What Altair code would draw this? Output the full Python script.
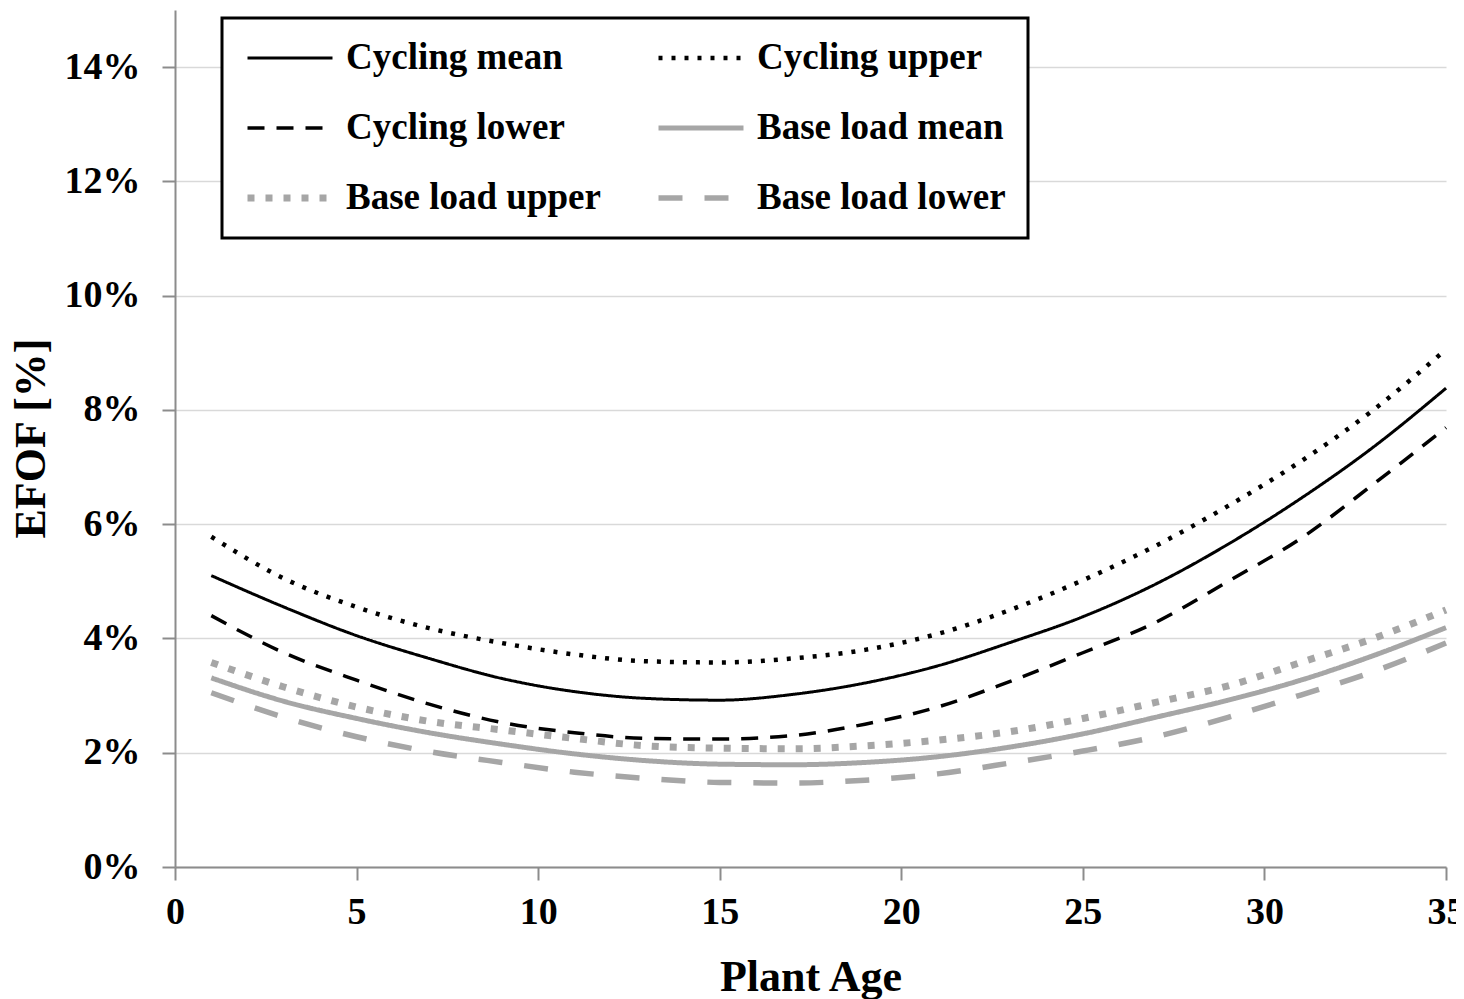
import altair as alt
import pandas as pd

ages = [1, 3, 5, 7, 9, 11, 13, 15, 17, 19, 21, 23, 25, 27, 29, 31, 33, 35]

cycling_mean = [5.10, 4.55, 4.05, 3.65, 3.30, 3.07, 2.95, 2.92, 3.02, 3.22, 3.52, 3.93, 4.38, 4.95, 5.65, 6.45, 7.35, 8.38]
cycling_upper = [5.78, 5.05, 4.55, 4.18, 3.92, 3.72, 3.60, 3.58, 3.65, 3.80, 4.08, 4.50, 5.02, 5.62, 6.32, 7.10, 8.00, 9.06]
cycling_lower = [4.40, 3.75, 3.27, 2.85, 2.53, 2.35, 2.25, 2.24, 2.30, 2.50, 2.80, 3.25, 3.75, 4.28, 5.00, 5.75, 6.70, 7.69]
base_mean = [3.31, 2.90, 2.60, 2.35, 2.15, 1.98, 1.86, 1.80, 1.79, 1.83, 1.93, 2.10, 2.33, 2.62, 2.92, 3.27, 3.70, 4.19]
base_upper = [3.58, 3.15, 2.80, 2.55, 2.40, 2.25, 2.12, 2.08, 2.07, 2.12, 2.22, 2.37, 2.60, 2.88, 3.17, 3.58, 4.00, 4.50]
base_lower = [3.05, 2.62, 2.28, 2.02, 1.83, 1.66, 1.55, 1.48, 1.47, 1.52, 1.63, 1.82, 2.03, 2.28, 2.62, 3.01, 3.42, 3.92]

series_names = ["Cycling mean", "Cycling upper", "Cycling lower",
                "Base load mean", "Base load upper", "Base load lower"]
series_values = [cycling_mean, cycling_upper, cycling_lower, base_mean, base_upper, base_lower]

# legend fills column by column: this order reproduces the row-wise layout of the reference
legend_order = ["Cycling mean", "Cycling lower", "Base load upper",
                "Cycling upper", "Base load mean", "Base load lower"]

style_color = {"Cycling mean": "#000000", "Cycling upper": "#000000", "Cycling lower": "#000000",
               "Base load mean": "#a6a6a6", "Base load upper": "#a6a6a6", "Base load lower": "#a6a6a6"}
style_dash = {"Cycling mean": [1, 0], "Cycling upper": [4, 9], "Cycling lower": [17, 12],
              "Base load mean": [1, 0], "Base load upper": [7, 11], "Base load lower": [24, 22]}
style_width = {"Cycling mean": 3, "Cycling upper": 4.5, "Cycling lower": 3.5,
               "Base load mean": 5, "Base load upper": 7, "Base load lower": 5.5}

colors = [style_color[s] for s in legend_order]
dashes = [style_dash[s] for s in legend_order]
widths = [style_width[s] for s in legend_order]

rows = []
for name, vals in zip(series_names, series_values):
    for a, v in zip(ages, vals):
        rows.append({"age": a, "efof": v, "series": name})
df = pd.DataFrame(rows)

FONT = "Liberation Serif"

legend = alt.Legend(
    title=None,
    orient="none",
    legendX=47,
    legendY=8,
    columns=2,
    columnPadding=54,
    rowPadding=33,
    clipHeight=36,
    symbolType="stroke",
    symbolSize=7225,
    labelOffset=10,
    labelFont=FONT,
    labelFontSize=37,
    labelFontWeight="bold",
    labelColor="black",
    labelLimit=400,
    strokeColor="black",
    fillColor="white",
    padding=22,
    symbolLimit=0,
)

chart = alt.Chart(df).mark_line(interpolate="monotone").encode(
    x=alt.X("age:Q",
            scale=alt.Scale(domain=[0, 35], nice=False),
            axis=alt.Axis(values=[0, 5, 10, 15, 20, 25, 30, 35], title="Plant Age",
                          grid=False, labelPadding=13, labelFlush=False,
                          titleY=123, titleBaseline="alphabetic")),
    y=alt.Y("efof:Q",
            scale=alt.Scale(domain=[0, 15], nice=False),
            axis=alt.Axis(values=[0, 2, 4, 6, 8, 10, 12, 14], title="EFOF [%]",
                          labelExpr="datum.value + '%'", grid=True, labelPadding=22,
                          titleX=-131, titleY=428, titleAngle=270, titleAlign="center",
                          titleBaseline="alphabetic")),
    color=alt.Color("series:N", scale=alt.Scale(domain=legend_order, range=colors), legend=legend),
    strokeDash=alt.StrokeDash("series:N", scale=alt.Scale(domain=legend_order, range=dashes), legend=legend),
    strokeWidth=alt.StrokeWidth("series:N", scale=alt.Scale(type="ordinal", domain=legend_order, range=widths), legend=legend),
).properties(
    width=1271,
    height=857,
    autosize=alt.AutoSizeParams(type="none"),
    padding={"left": 167, "top": 2, "right": 10, "bottom": 132},
).configure_view(
    stroke=None
).configure_axis(
    labelFont=FONT,
    labelFontSize=38,
    labelFontWeight="bold",
    labelColor="black",
    titleFont=FONT,
    titleFontSize=44,
    titleFontWeight="bold",
    titleColor="black",
    domainColor="#8c8c8c",
    domainWidth=2,
    tickColor="#8c8c8c",
    tickWidth=2,
    tickSize=13,
    gridColor="#d9d9d9",
    gridWidth=1.5,
    labelOverlap=False,
).configure_legend(
    strokeWidth=3,
)

chart.save("out.html", embed_options={"renderer": "svg", "actions": False})
